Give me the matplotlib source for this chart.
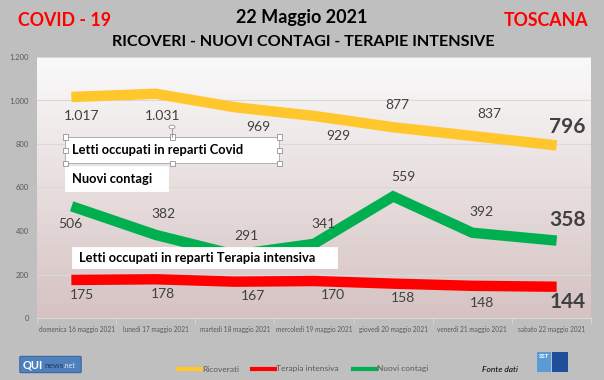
import matplotlib.pyplot as plt
import numpy as np
from matplotlib.patches import Rectangle, FancyBboxPatch
from matplotlib.lines import Line2D

plt.rcParams['font.family'] = ['Lato', 'DejaVu Sans']

# data
giorni = ['domenica 16 maggio 2021', 'lunedì 17 maggio 2021', 'martedì 18 maggio 2021',
          'mercoledì 19 maggio 2021', 'giovedì 20 maggio 2021', 'venerdì 21 maggio 2021',
          'sabato 22 maggio 2021']
ricoverati = [1017, 1031, 969, 929, 877, 837, 796]
terapia = [175, 178, 167, 170, 158, 148, 144]
contagi = [506, 382, 291, 341, 559, 392, 358]

# label offsets in pixels (dx, dy)
off_ric = [(5, -19), (7, -22), (23, -20), (24, -20), (4, 22), (17, 22), (16, 18)]
off_con = [(-6, -16), (8, 21), (12, 19), (9, 20), (10, 19), (9, 21), (16, 20)]
off_ter = [(5, -15), (7, -15), (18, -14), (19, -14), (10, -14), (10, -17), (16, -15)]

W, H = 604, 380
BG = '#bfbfbf'
GIALLO = '#ffc72c'
ROSSO = '#ff0000'
VERDE = '#00b050'
TXT = '#404040'

fig = plt.figure(figsize=(W / 100, H / 100), dpi=100, facecolor=BG)

def px(x, y):
    return x / W, 1 - y / H

x0, x1, yt, yb = 37, 591, 57, 318
ax = fig.add_axes([x0 / W, 1 - yb / H, (x1 - x0) / W, (yb - yt) / H])

# gradient background (white on top, pinkish at the bottom)
grad = np.linspace(0, 1, 256).reshape(-1, 1)
top = np.array([0.98, 0.98, 0.98])
bot = np.array([0.84, 0.76, 0.76])
img = top + (bot - top) * grad[..., None]
ax.imshow(img, extent=[-0.5, 6.5, 0, 1200], origin='upper', aspect='auto', zorder=0)
ax.set_xlim(-0.5, 6.5)
ax.set_ylim(0, 1200)

for v in range(200, 1201, 200):
    ax.axhline(v, color='#d9d9d9', lw=0.8, zorder=1)

x = np.arange(7)
for serie, col in [(ricoverati, GIALLO), (contagi, VERDE), (terapia, ROSSO)]:
    ax.plot(x, serie, color=col, lw=7.5, solid_capstyle='projecting',
            solid_joinstyle='miter', zorder=3)

def etichette(serie, offs):
    for i, (v, o) in enumerate(zip(serie, offs)):
        testo = f'{v:,}'.replace(',', '.')
        if i == 6:
            ax.annotate(testo, (i, v), xytext=o, textcoords='offset pixels',
                        ha='center', va='center', fontsize=15, fontweight='bold',
                        color=TXT, zorder=5)
        else:
            ax.annotate(testo, (i, v), xytext=o, textcoords='offset pixels',
                        ha='center', va='center', fontsize=10, color=TXT, zorder=5)

etichette(ricoverati, off_ric)
etichette(contagi, off_con)
etichette(terapia, off_ter)

for s in ['top', 'right', 'left']:
    ax.spines[s].set_visible(False)
ax.spines['bottom'].set_color('#d9d9d9')
ax.set_yticks(range(0, 1201, 200))
ax.set_yticklabels(['0', '200', '400', '600', '800', '1.000', '1.200'])
ax.tick_params(axis='y', length=0, labelsize=5.5, labelcolor='#595959', pad=6)
ax.set_xticks(x)
ax.set_xticklabels(giorni)
ax.set_xticks(np.arange(-0.5, 7, 1), minor=True)
ax.tick_params(axis='x', which='major', length=0, labelsize=4.7, labelcolor='#595959', pad=6)
ax.tick_params(axis='x', which='minor', length=4, color='#d9d9d9')

# text boxes
def box(xa, ya, xb, yb2, testo, maniglie=False):
    fx, fy = px(xa, yb2)
    r = Rectangle((fx, fy), (xb - xa) / W, (yb2 - ya) / H, transform=fig.transFigure,
                  facecolor='white', edgecolor='#a6a6a6' if maniglie else 'white',
                  lw=0.6, zorder=10)
    fig.add_artist(r)
    tx, ty = px(xa + 7, (ya + yb2) / 2)
    fig.text(tx, ty, testo, fontsize=9.3, fontweight='bold', color='black',
             va='center', ha='left', zorder=11)
    if maniglie:
        xm = (xa + xb) / 2
        ym = (ya + yb2) / 2
        for hx, hy in [(xa, ya), (xm, ya), (xb, ya), (xa, ym), (xb, ym),
                       (xa, yb2), (xm, yb2), (xb, yb2)]:
            hfx, hfy = px(hx - 2.5, hy + 2.5)
            fig.add_artist(Rectangle((hfx, hfy), 5 / W, 5 / H, transform=fig.transFigure,
                                     facecolor='white', edgecolor='#7f7f7f', lw=0.5, zorder=12))
        fig.add_artist(Line2D([px(xm, 0)[0]] * 2, [px(0, ya)[1], px(0, ya - 8)[1]],
                              transform=fig.transFigure, color='#7f7f7f', lw=0.5, zorder=12))
        cx, cy = px(xm, ya - 10)
        fig.add_artist(plt.Circle((cx, cy), 3 / W, transform=fig.transFigure,
                                  facecolor='white', edgecolor='#7f7f7f', lw=0.5, zorder=12))

box(65, 137, 279, 163, 'Letti occupati in reparti Covid', maniglie=True)
box(65, 166, 168, 191, 'Nuovi contagi')
box(72, 247, 337, 268, 'Letti occupati in reparti Terapia intensiva')

# titles
fig.text(*px(302, 18), '22 Maggio 2021', ha='center', va='center', fontsize=13,
         fontweight='bold', color='black')
fig.text(*px(303, 42), 'RICOVERI - NUOVI CONTAGI - TERAPIE INTENSIVE', ha='center',
         va='center', fontsize=11.6, fontweight='bold', color='black')
fig.text(*px(18, 21), 'COVID - 19', ha='left', va='center', fontsize=12.8,
         fontweight='bold', color='#ff0000')
fig.text(*px(588, 21), 'TOSCANA', ha='right', va='center', fontsize=12.8,
         fontweight='bold', color='#ff0000')

# legend
leg = [('Ricoverati', GIALLO, 178), ('Terapia intensiva', ROSSO, 252), ('Nuovi contagi', VERDE, 353)]
for nome, col, lx in leg:
    ya = px(0, 369)[1]
    fig.add_artist(Line2D([lx / W, (lx + 23) / W], [ya, ya], transform=fig.transFigure,
                          color=col, lw=3))
    fig.text((lx + 24) / W, ya, nome, fontsize=6, color='#595959', va='center', ha='left')

fig.text(*px(500, 369), 'Fonte dati', fontsize=6, style='italic', color='black',
         ha='center', va='center')

# logos
qx, qy = px(21, 372)
fig.add_artist(FancyBboxPatch((qx, qy), 59 / W, 15 / H, boxstyle='round,pad=0.002',
                              transform=fig.transFigure, facecolor='#4f81bd',
                              edgecolor='#2f5597', lw=0.6))
fig.text(*px(23, 364.5), 'QUI', fontsize=8, fontweight='bold', color='white',
         va='center', ha='left')
fig.text(*px(44, 365.5), 'news', fontsize=6, color='#1f3864', va='center', ha='left')
fig.text(*px(64, 366), '.net', fontsize=5, color='#dce6f2', va='center', ha='left')

sx, sy = px(537, 372)
fig.add_artist(Rectangle((sx, sy), 14 / W, 20 / H, transform=fig.transFigure,
                         facecolor='#5b9bd5', edgecolor='none'))
sx2, sy2 = px(552, 372)
fig.add_artist(Rectangle((sx2, sy2), 16 / W, 20 / H, transform=fig.transFigure,
                         facecolor='#1f4e9a', edgecolor='none'))
fig.text(*px(544, 356), 'SST', fontsize=4.5, fontweight='bold', color='white',
         va='center', ha='center')

fig.savefig('out.png', dpi=100, facecolor=BG)
